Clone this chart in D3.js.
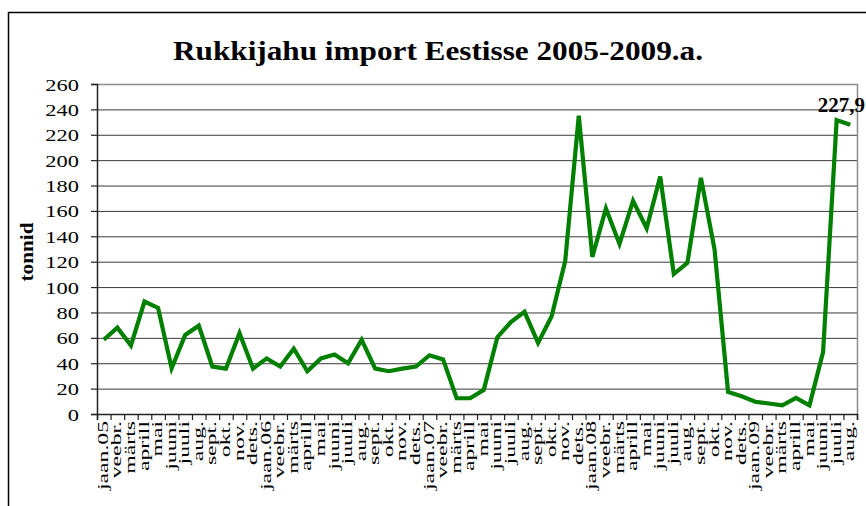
<!DOCTYPE html>
<html><head><meta charset="utf-8">
<script src="https://cdn.jsdelivr.net/npm/d3@7"></script>
<style>
html,body{margin:0;padding:0;background:#fff;}
svg{display:block;}
text{font-family:"Liberation Serif","Times New Roman",Times,serif;}
</style></head>
<body>
<svg id="chart" width="866" height="506"></svg>
<script>
const months = ["jaan.05","veebr.","märts","aprill","mai","juuni","juuli","aug.","sept.","okt.","nov.","dets.",
"jaan.06","veebr.","märts","aprill","mai","juuni","juuli","aug.","sept.","okt.","nov.","dets.",
"jaan.07","veebr.","märts","aprill","mai","juuni","juuli","aug.","sept.","okt.","nov.","dets.",
"jaan.08","veebr.","märts","aprill","mai","juuni","juuli","aug.","sept.","okt.","nov.","dets.",
"jaan.09","veebr.","märts","aprill","mai","juuni","juuli","aug."];
const values = [58.5,68,54,88.6,83.6,36,62.3,69.6,37.4,35.7,63.7,35.7,
43.8,37.4,51.4,33.7,43.8,46.8,40,58.5,35.7,33.7,35.7,37.4,
46.3,43,12.4,12.4,19,60.5,72.5,80.5,56,77,120.5,235,
123.8,162,134,168,146.4,187,110.3,119,186,130,17.4,14,
9.6,8.3,6.8,12.7,6.8,48.8,231.6,227.9];
const yTicks = [0,20,40,60,80,100,120,140,160,180,200,220,240,260];
const title = "Rukkijahu import Eestisse 2005-2009.a.";
const yTitle = "tonnid";
const lastLabel = "227,9";

const svg = d3.select("#chart");
const L = 97, R = 857, T = 84, B = 414;

// outer frame (left & top visible)
svg.append("path").attr("d", `M8.5,506 V12.5 H866`).attr("fill","none").attr("stroke","#000").attr("stroke-width",1.5);

const x = d3.scaleBand().domain(d3.range(months.length)).range([L, R]).padding(0);
const xb = d3.scaleLinear().domain([0, months.length]).range([L, R]);
const y = d3.scaleLinear().domain([0, 260]).range([B, T]);

// gridlines
svg.append("g").selectAll("line").data(yTicks.filter(v => v > 0 && v < 260)).join("line")
  .attr("x1", L).attr("x2", R).attr("y1", d => y(d) + 0.5).attr("y2", d => y(d) + 0.5)
  .attr("stroke", "#3a3a3a").attr("stroke-width", 1);

// plot border top/right
svg.append("path").attr("d", `M${L},${y(260)+0.5} H${R+0.5} V${B}`).attr("fill","none").attr("stroke","#8c8c8c").attr("stroke-width",1.5);

// y axis
const yAxis = svg.append("g").attr("transform", `translate(${L},0)`)
  .call(d3.axisLeft(y).tickValues(yTicks).tickSize(6).tickFormat(d => d));
yAxis.attr("font-family", null).attr("font-size", null);
yAxis.select(".domain").attr("stroke", "#222").attr("stroke-width", 1.5);
yAxis.selectAll(".tick line").attr("stroke", "#222").attr("stroke-width", 1.2);
yAxis.selectAll(".tick text")
  .attr("x", null).attr("dy", null)
  .attr("transform", "translate(-18,6) scale(1.32,1)")
  .attr("text-anchor", "end")
  .style("font-size", "17px").attr("fill", "#000");

// x axis with ticks at band boundaries
const xAxis = svg.append("g").attr("transform", `translate(0,${B})`)
  .call(d3.axisBottom(xb).tickValues(d3.range(months.length + 1)).tickSize(6).tickFormat(""));
xAxis.select(".domain").attr("stroke", "#222").attr("stroke-width", 1.5);
xAxis.selectAll(".tick line").attr("stroke", "#222").attr("stroke-width", 1.2);

// x labels
svg.append("g").selectAll("text").data(months).join("text")
  .attr("transform", (d, i) => `translate(${x(i) + x.bandwidth()/2 + 4},421) rotate(-90) scale(1.58,1)`)
  .attr("text-anchor", "end")
  .style("font-size", "15px")
  .text(d => d);

// y title
svg.append("text").attr("transform", "translate(33,252) rotate(-90) scale(1.12,1)")
  .attr("text-anchor", "middle").style("font-size", "19px").style("font-weight", "bold").text(yTitle);

// title
svg.append("text").attr("x", 173).attr("y", 60)
  .attr("textLength", 530).attr("lengthAdjust", "spacingAndGlyphs")
  .style("font-size", "28px").style("font-weight", "bold").text(title);

// line
const line = d3.line().x((d, i) => x(i) + x.bandwidth()/2).y(d => y(d));
svg.append("path").datum(values).attr("d", line)
  .attr("fill", "none").attr("stroke", "#008000").attr("stroke-width", 4.2)
  .attr("stroke-linejoin", "miter").attr("stroke-miterlimit", 4);

// data label
svg.append("text").attr("x", 865).attr("y", 112).attr("text-anchor", "end")
  .style("font-size", "21px").style("font-weight", "bold").text(lastLabel);
</script>
</body></html>
